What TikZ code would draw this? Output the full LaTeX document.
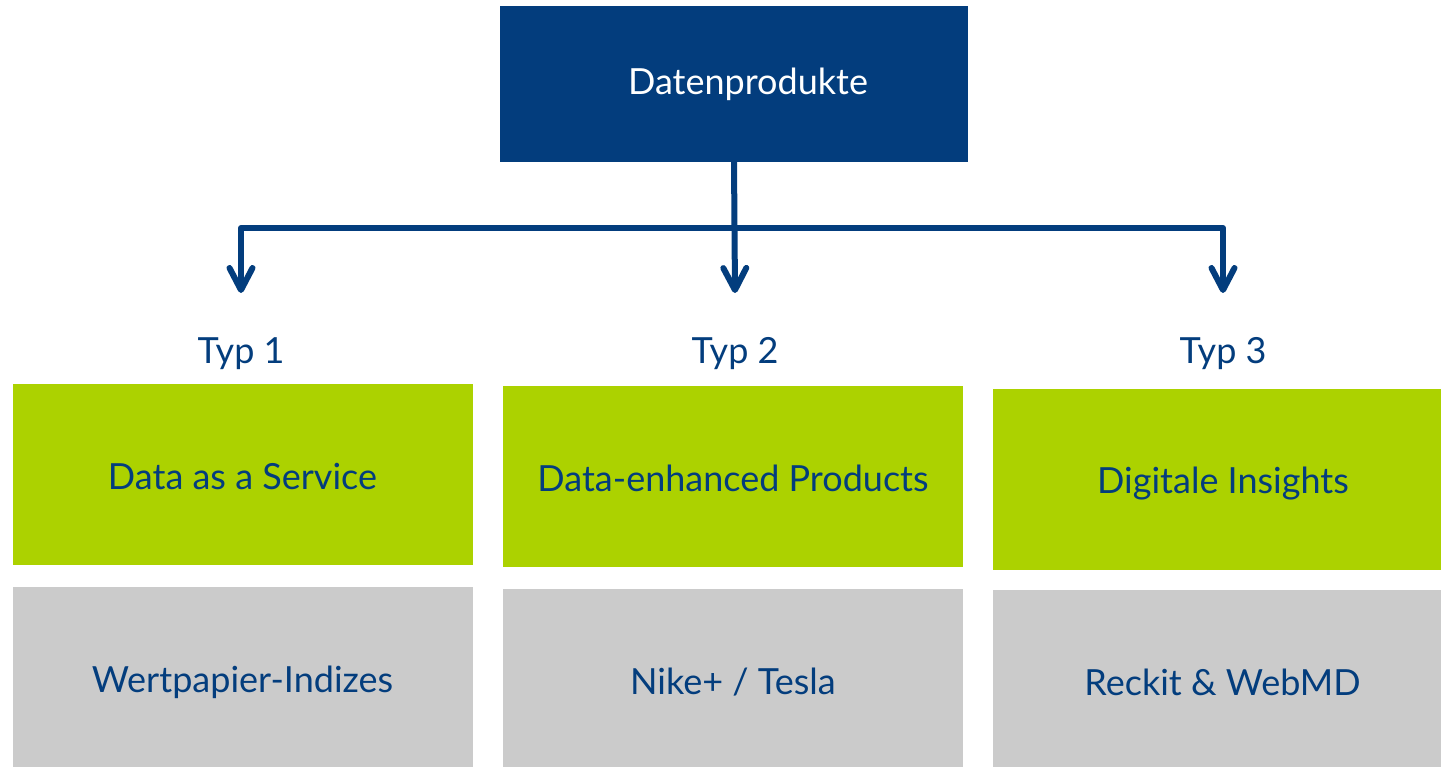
\documentclass[tikz,border=0pt]{standalone}
\usepackage{fontspec}
\setmainfont{Lato}
\usetikzlibrary{arrows.meta}
\definecolor{dblue}{RGB}{3,61,125}
\definecolor{lgreen}{RGB}{172,210,0}
\definecolor{lgray}{RGB}{203,203,203}
\begin{document}
\begin{tikzpicture}[x=1pt,y=-1pt,
  every node/.style={inner sep=0pt,outer sep=0pt},
  txt/.style={font=\fontsize{36}{42}\selectfont},
  topbox/.style={txt,fill=dblue,text=white,minimum width=468pt,minimum height=156pt},
  cellbox/.style={txt,text=dblue,minimum width=460pt,minimum height=181pt,
    text height=31pt,text depth=2pt},
  greenbox/.style={cellbox,fill=lgreen},
  graybox/.style={cellbox,fill=lgray},
  typlabel/.style={txt,text=dblue},
  conn/.style={draw=dblue,line width=6pt,line join=round,
    arrows={-{Straight Barb[length=22pt,width=23pt,round]}}}]
\clip (0,0) rectangle (1441,767);
\node[topbox] (top) at (734,84) {\hspace*{28pt}Datenprodukte};
\coordinate (bar) at (735,228);
\coordinate (t1) at (241,293);
\coordinate (t2) at (735,293);
\coordinate (t3) at (1223,293);
\draw[conn,arrows={{Straight Barb[length=22pt,width=23pt,round]}-{Straight Barb[length=22pt,width=23pt,round]}}]
  (t1) |- (bar) -| (t3);
\draw[conn] (top.south) -- (t2);
\node[typlabel] (typ1) at (241,354) {Typ 1};
\node[typlabel] (typ2) at (735,354) {Typ 2};
\node[typlabel] (typ3) at (1223,354) {Typ 3};
\node[greenbox] (g1) at (242.5,474.5) {Data as a Service};
\node[greenbox] (g2) at (733,476.5) {Data-enhanced Products};
\node[greenbox] (g3) at (1223,479) {Digitale Insights};
\node[graybox] (s1) at (242.5,677.5) {Wertpapier-Indizes};
\node[graybox] (s2) at (733,679.5) {Nike+ / Tesla};
\node[graybox] (s3) at (1222.5,680.5) {Reckit \& WebMD};
\end{tikzpicture}
\end{document}
